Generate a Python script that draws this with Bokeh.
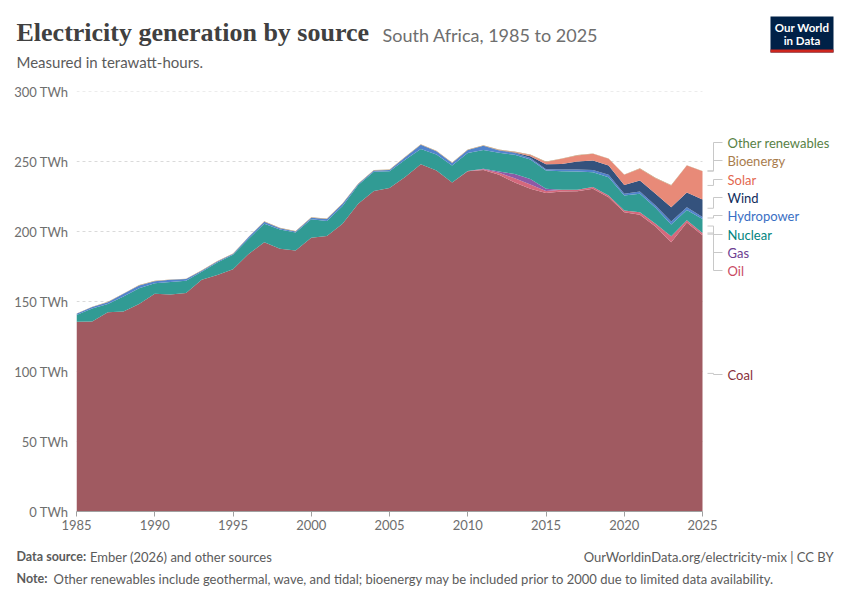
from bokeh.plotting import figure
from bokeh.layouts import column
from bokeh.models import ColumnDataSource, Range1d, FixedTicker, PrintfTickFormatter
from bokeh.core.properties import value
from bokeh.embed import file_html
from bokeh.resources import INLINE

years = list(range(1985, 2026))
coal = [135.5, 135.7, 142.4, 142.8, 148.3, 155.5, 155.0, 156.0, 165.5, 169.0,
        173.0, 184.0, 192.4, 187.6, 186.4, 195.5, 196.7, 205.5, 219.8, 229.0,
        231.0, 239.0, 248.0, 243.5, 235.0, 243.0, 244.0, 240.5, 235.0, 230.5,
        227.5, 228.6, 228.8, 230.5, 224.5, 213.8, 211.9, 203.6, 192.4, 206.5,
        197.3]
oil = [0] * 25 + [0.2, 0.5, 1.4, 3.0, 3.0, 1.5, 1.2, 1.0, 1.2, 1.2, 1.2, 1.9, 1.9, 4.2, 1.5, 1.6]
gas = [0] * 26 + [0.4, 1.0, 3.0, 4.0, 1.5] + [0] * 10
nuclear = [4.9, 9.3, 5.9, 10.7, 11.1, 7.5, 9.0, 8.8, 5.7, 8.8,
           10.4, 10.8, 13.2, 13.8, 12.8, 13.3, 10.8, 12.8, 13.4, 13.6,
           12.0, 12.3, 11.0, 11.5, 12.2, 12.8, 13.4, 13.3, 13.8, 14.0,
           13.0, 13.2, 13.1, 10.7, 13.1, 10.7, 13.1, 11.4, 8.4, 7.4,
           10.0]
hydro = [0.8, 1.0, 1.2, 2.0, 2.0, 1.5, 1.5, 1.2, 0.8, 0.8,
         0.6, 1.2, 1.4, 1.0, 0.8, 1.0, 1.5, 1.5, 0.8, 1.0,
         1.0, 1.8, 3.0, 2.4, 1.7, 2.3, 3.0, 1.7, 1.2, 1.0,
         1.0, 1.3, 1.4, 1.6, 1.7, 1.2, 1.7, 1.7, 2.1, 2.0,
         1.5]
wind = [0] * 27 + [0.2, 0.5, 1.2, 3.5, 4.0, 5.7, 6.7, 6.6, 6.4, 7.8, 8.3, 10.3, 10.5, 12.4]
solar = [0] * 27 + [0.1, 0.3, 1.0, 1.7, 3.6, 4.3, 4.8, 4.8, 7.2, 8.4, 11.2, 15.5, 19.2, 20.2]
bioenergy = [0.3] * 41
other_renewables = [0.0] * 41

sources = ["Coal", "Oil", "Gas", "Nuclear", "Hydropower", "Wind", "Solar", "Bioenergy", "Other renewables"]
series = [coal, oil, gas, nuclear, hydro, wind, solar, bioenergy, other_renewables]
fill_colors = ["#a05a61", "#d5687c", "#8c5aa6", "#319b94", "#5283cc", "#34527d", "#e88a78", "#b89465", "#7a9a5c"]
label_colors = ["#883039", "#c94a62", "#6d3e91", "#00847e", "#3a6fc4", "#0f2c5c", "#e3674f", "#a97c4c", "#578145"]
label_py = [374, 270, 252, 234, 215, 197, 179, 160, 142]

y_ticks = [0, 50, 100, 150, 200, 250, 300]
x_ticks = [1985, 1990, 1995, 2000, 2005, 2010, 2015, 2020, 2025]

TOTAL_W = 850
FONT = value("Lato")


def blank_fig(h):
    f = figure(width=TOTAL_W, height=h, output_backend="svg", toolbar_location=None,
               x_range=Range1d(0, TOTAL_W), y_range=Range1d(h, 0),
               x_axis_type=None, y_axis_type=None, min_border=0)
    f.outline_line_color = None
    f.frame_align = False
    return f


def put_text(f, x, y, text, size, color, font=FONT, style="normal", align="left", baseline="middle"):
    f.text(x=[x], y=[y], text=[text], text_font=font, text_font_size=value(size),
           text_color=color, text_font_style=style, text_align=align, text_baseline=baseline)


# ---------------- header ----------------
HEAD_H = 83
head = blank_fig(HEAD_H)
put_text(head, 16, 32, "Electricity generation by source", "26px", "#404040",
         font=value("Liberation Serif"), style="bold")
put_text(head, 382, 34, "South Africa, 1985 to 2025", "18px", "#6e6e6e")
put_text(head, 16, 61, "Measured in terawatt-hours.", "15px", "#5b5b5b")
head.quad(left=[770], right=[833], top=[16], bottom=[52], fill_color="#002147", line_color=None)
head.quad(left=[770], right=[833], top=[49], bottom=[52], fill_color="#ce261e", line_color=None)
put_text(head, 801.5, 27, "Our World", "11.5px", "white", style="bold", align="center")
put_text(head, 801.5, 40, "in Data", "11.5px", "white", style="bold", align="center")

# ---------------- main chart ----------------
FRAME_L, FRAME_R2025, FRAME_TOP_PAD, FRAME_H, BOT_PAD = 76, 702, 8, 420, 30
px_per_year = (FRAME_R2025 - FRAME_L) / 40.0
x_end = 1985 + (TOTAL_W - FRAME_L) / px_per_year
MAIN_H = FRAME_TOP_PAD + FRAME_H + BOT_PAD

keys = ["s%d" % i for i in range(len(series))]
data = {"year": years}
for k, s in zip(keys, series):
    data[k] = s
source = ColumnDataSource(data)

p = figure(width=TOTAL_W, height=MAIN_H, output_backend="svg", toolbar_location=None,
           x_range=Range1d(1985, x_end), y_range=Range1d(0, 300),
           min_border_left=FRAME_L, min_border_right=0, min_border_top=FRAME_TOP_PAD,
           min_border_bottom=BOT_PAD)
p.outline_line_color = None
p.frame_align = False
p.xgrid.visible = False
p.ygrid.visible = False

# dashed horizontal grid lines spanning the data years only
p.segment(x0=[x_ticks[0]] * len(y_ticks), x1=[x_ticks[-1]] * len(y_ticks), y0=y_ticks, y1=y_ticks,
          line_color="#dadada", line_dash="3 3", line_width=1)

p.varea_stack(stackers=keys, x="year", color=fill_colors, source=source)

p.yaxis.ticker = FixedTicker(ticks=y_ticks)
p.yaxis.formatter = PrintfTickFormatter(format="%d TWh")
p.yaxis.axis_line_color = None
p.yaxis.major_tick_line_color = None
p.yaxis.major_tick_out = 0
p.yaxis.major_tick_in = 0
p.yaxis.minor_tick_line_color = None
p.yaxis.major_label_standoff = 8
p.yaxis.major_label_text_font = "Lato"
p.yaxis.major_label_text_font_size = "13px"
p.yaxis.major_label_text_color = "#6e6e6e"

p.xaxis.ticker = FixedTicker(ticks=x_ticks)
p.xaxis.bounds = (x_ticks[0], x_ticks[-1])
p.xaxis.axis_line_color = "#a0a0a0"
p.xaxis.major_tick_line_color = "#a0a0a0"
p.xaxis.major_tick_out = 5
p.xaxis.major_tick_in = 0
p.xaxis.minor_tick_line_color = None
p.xaxis.major_label_standoff = 3
p.xaxis.major_label_text_font = "Lato"
p.xaxis.major_label_text_font_size = "13px"
p.xaxis.major_label_text_color = "#6e6e6e"

PAGE_FRAME_TOP = HEAD_H + FRAME_TOP_PAD
PAGE_FRAME_BOT = PAGE_FRAME_TOP + FRAME_H


def X(px):
    return 1985 + (px - FRAME_L) / px_per_year


def Y(py):
    return (PAGE_FRAME_BOT - py) * 300.0 / FRAME_H


# right-hand labels with elbow connectors
cum = 0.0
cx, cy = [], []
for name, s, col, lpy in zip(sources, series, label_colors, label_py):
    last = s[-1]
    mid_val = cum + last / 2.0
    cum += last
    cx.append([X(707), X(713), X(713), X(722)])
    cy.append([mid_val, mid_val, Y(lpy), Y(lpy)])
    p.text(x=[X(727)], y=[Y(lpy)], text=[name], text_font=FONT, text_font_size=value("13px"),
           text_color=col, text_align="left", text_baseline="middle")
p.multi_line(xs=cx, ys=cy, line_color="#c8c8c8", line_width=1)

# ---------------- footer ----------------
FOOT_H = 600 - HEAD_H - MAIN_H
foot = blank_fig(FOOT_H)
fy1 = 556 - HEAD_H - MAIN_H
fy2 = 578 - HEAD_H - MAIN_H
put_text(foot, 16, fy1, "Data source:", "12.5px", "#5b5b5b", style="bold")
put_text(foot, 89.5, fy1, "Ember (2026) and other sources", "13px", "#5b5b5b")
put_text(foot, 833, fy1, "OurWorldinData.org/electricity-mix | CC BY", "13px", "#5b5b5b", align="right")
put_text(foot, 16, fy2, "Note:", "12.5px", "#5b5b5b", style="bold")
put_text(foot, 53, fy2, "Other renewables include geothermal, wave, and tidal; bioenergy may be included prior to 2000 due to limited data availability.",
         "13px", "#5b5b5b")

layout = column(head, p, foot, spacing=0)
open("out.html", "w").write(file_html(layout, INLINE))
